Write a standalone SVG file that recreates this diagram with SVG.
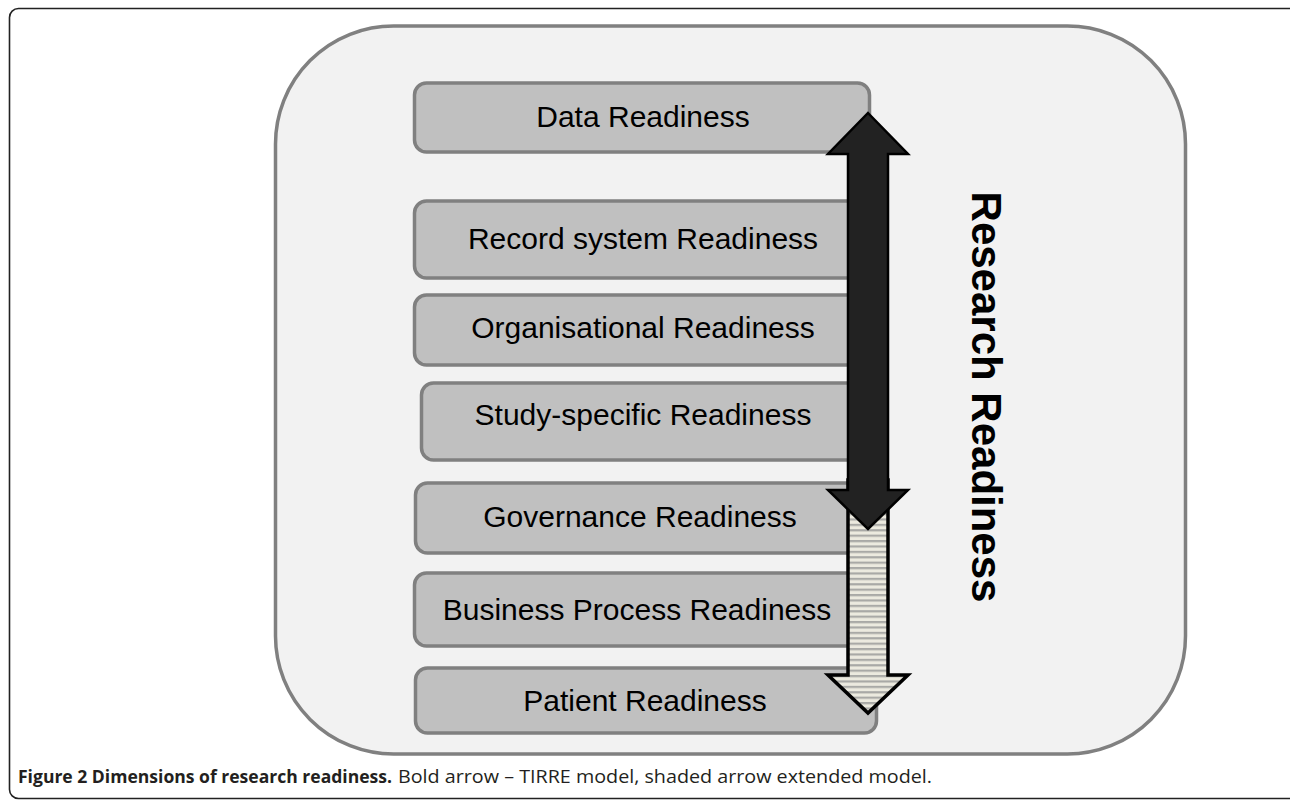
<svg xmlns="http://www.w3.org/2000/svg" width="1290" height="801" viewBox="0 0 1290 801">
<defs>
<style>
.box{fill:#c0c0c0;stroke:#808080;stroke-width:3.5}
.lbl{font-family:"Liberation Sans",Arial,sans-serif;font-size:30px;fill:#000;text-anchor:middle}
.cap{font-family:"Open Sans","Noto Sans",sans-serif;font-size:18.5px;fill:#231f20}
</style>
<pattern id="stripes" patternUnits="userSpaceOnUse" width="40" height="5.4">
<rect width="40" height="5.4" fill="#eceadf"/>
<rect y="0" width="40" height="2.2" fill="#a9a9a6"/>
</pattern>
</defs>
<rect width="1290" height="801" fill="#ffffff"/>
<rect id="frame" x="9.5" y="8.5" width="1300" height="790" rx="9" fill="none" stroke="#222" stroke-width="1.6"/>
<rect id="container" x="275.5" y="26" width="910" height="728" rx="118" fill="#f2f2f2" stroke="#808080" stroke-width="3.5"/>
<g id="node-data"><rect class="box" x="414.5" y="83" width="455" height="69" rx="12"/><text class="lbl" x="643" y="127">Data Readiness</text></g>
<g id="node-record"><rect class="box" x="414.5" y="201" width="455" height="77" rx="12"/><text class="lbl" x="643" y="249">Record system Readiness</text></g>
<g id="node-org"><rect class="box" x="414.5" y="295" width="455" height="70" rx="12"/><text class="lbl" x="643" y="338">Organisational Readiness</text></g>
<g id="node-study"><rect class="box" x="421.5" y="383" width="450" height="77" rx="12"/><text class="lbl" x="643" y="425">Study-specific Readiness</text></g>
<g id="node-gov"><rect class="box" x="415.5" y="483" width="454" height="70" rx="12"/><text class="lbl" x="640" y="527">Governance Readiness</text></g>
<g id="node-business"><rect class="box" x="414.5" y="573" width="450" height="73" rx="12"/><text class="lbl" x="637" y="620">Business Process Readiness</text></g>
<g id="node-patient"><rect class="box" x="415.5" y="668" width="461" height="65" rx="12"/><text class="lbl" x="645" y="711">Patient Readiness</text></g>
<g id="connectors">
<path id="arrow-extended" d="M848,480 L888,480 L888,675 L908,675 L868,713 L828,675 L848,675 Z" fill="url(#stripes)" stroke="#000" stroke-width="3.5" stroke-linejoin="miter"/>
<path id="arrow-tirre" d="M868,113 L908,154 L888,154 L888,490 L908,490 L868,529 L828,490 L848,490 L848,154 L828,154 Z" fill="#222222" stroke="#000" stroke-width="2.5" stroke-linejoin="miter"/>
</g>
<text id="side-label" transform="translate(972,397) rotate(90)" font-family="'Liberation Sans',Arial,sans-serif" font-size="42" font-weight="bold" text-anchor="middle" fill="#000">Research Readiness</text>
<text class="cap" x="18" y="783" font-weight="bold" textLength="374" lengthAdjust="spacingAndGlyphs">Figure 2 Dimensions of research readiness.</text>
<text class="cap" x="398" y="783" textLength="534" lengthAdjust="spacingAndGlyphs">Bold arrow – TIRRE model, shaded arrow extended model.</text>
</svg>
